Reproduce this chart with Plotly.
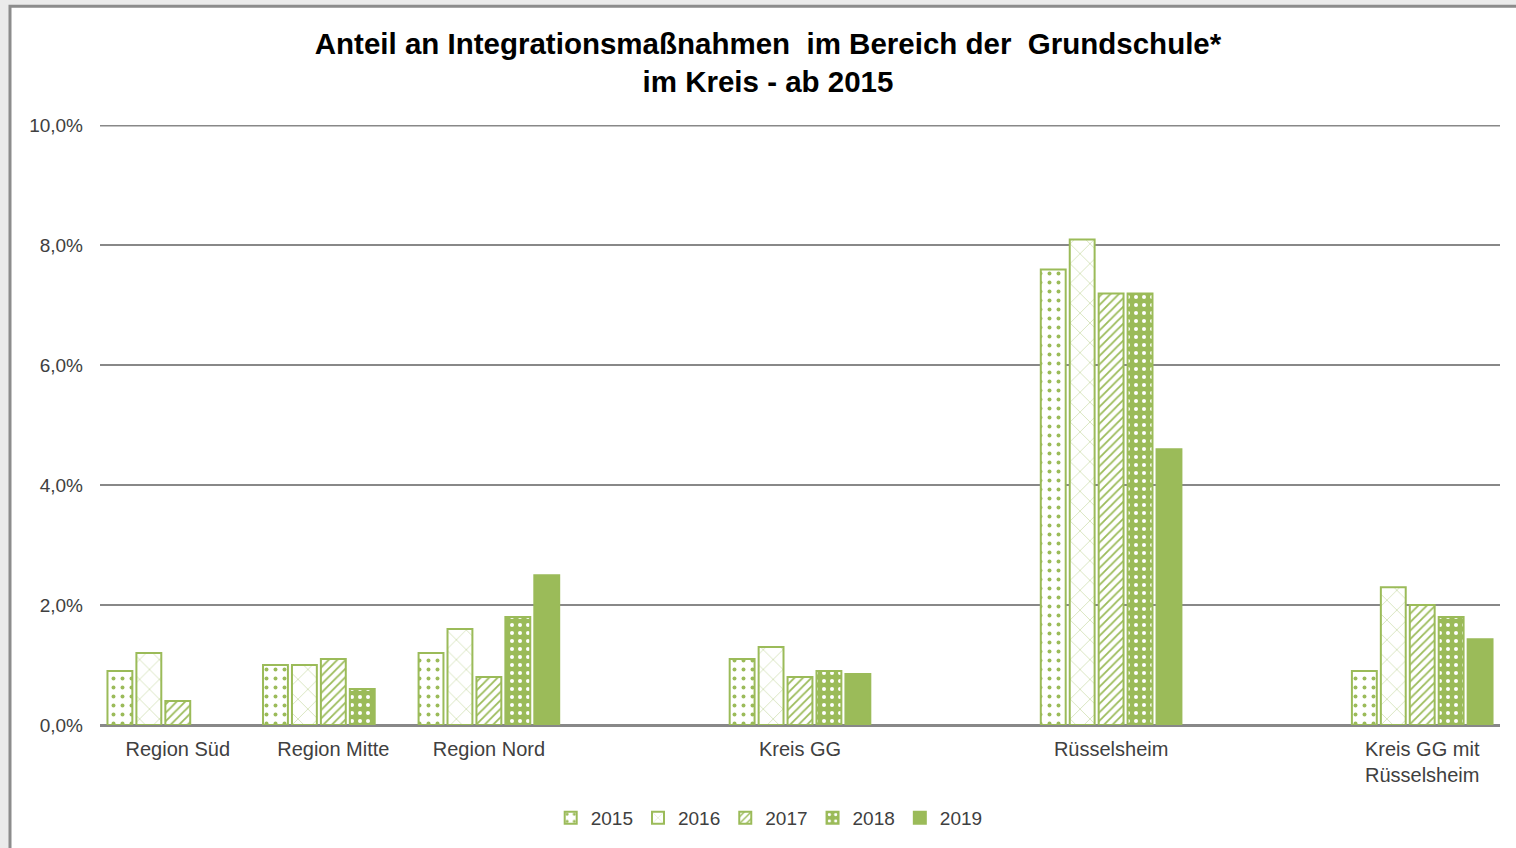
import plotly.graph_objects as go

categories = ["Region Süd", "Region Mitte", "Region Nord", " ", "Kreis GG", "  ",
              "Rüsselsheim", "   ", "Kreis GG mit<br>Rüsselsheim"]
years = ["2015", "2016", "2017", "2018", "2019"]
v2015 = [0.9, 1.0, 1.2, None, 1.1, None, 7.6, None, 0.9]
v2016 = [1.2, 1.0, 1.6, None, 1.3, None, 8.1, None, 2.3]
v2017 = [0.4, 1.1, 0.8, None, 0.8, None, 7.2, None, 2.0]
v2018 = [None, 0.6, 1.8, None, 0.9, None, 7.2, None, 1.8]
v2019 = [None, None, 2.5, None, 0.85, None, 4.6, None, 1.43]
series = [v2015, v2016, v2017, v2018, v2019]
y_ticks = [0, 2, 4, 6, 8, 10]
y_tick_labels = ["0,0%", "2,0%", "4,0%", "6,0%", "8,0%", "10,0%"]

GREEN = "#9bbb59"
GRID = "#888888"
FONT = "Liberation Sans, Arial, sans-serif"

patterns = [
    dict(shape=".", fgcolor=GREEN, bgcolor="white", size=9, solidity=0.15, fillmode="replace"),
    dict(shape="x", fgcolor="#b5cd85", bgcolor="white", size=14, solidity=0.07, fillmode="replace"),
    dict(shape="/", fgcolor=GREEN, bgcolor="white", size=6, solidity=0.3, fillmode="replace"),
    dict(shape=".", fgcolor="white", bgcolor=GREEN, size=8, solidity=0.2, fillmode="replace"),
    None,
]

fig = go.Figure()
for yr, vals, pat in zip(years, series, patterns):
    marker = dict(color=GREEN, line=dict(color=GREEN, width=2))
    if pat is not None:
        marker["pattern"] = pat
    fig.add_trace(go.Bar(name=yr, x=categories, y=vals, marker=marker))

fig.update_layout(
    width=1516, height=848,
    paper_bgcolor="#ebebeb",
    plot_bgcolor="white",
    margin=dict(l=100, r=16, t=125, b=122),
    barmode="group", bargap=0.07, bargroupgap=0.14,
    separators=",.",
    font=dict(family=FONT, size=20, color="#404040"),
    title=dict(
        text="<b>Anteil an Integrationsmaßnahmen  im Bereich der  Grundschule*<br>im Kreis - ab 2015</b>",
        x=768 / 1516, xanchor="center", xref="container",
        y=1 - 54 / 848, yanchor="top", yref="container",
        font=dict(family=FONT, size=29.5, color="black"),
    ),
    legend=dict(
        orientation="h", x=0.478, xanchor="center", y=-0.153, yanchor="middle",
        itemwidth=30, font=dict(size=19, color="#404040"), bgcolor="rgba(0,0,0,0)",
    ),
    xaxis=dict(showgrid=False, showline=True, linecolor=GRID, linewidth=2,
               ticks="", ticklabelstandoff=5, tickfont=dict(size=20, color="#404040")),
    yaxis=dict(range=[0, 10.01], tickvals=y_ticks, ticktext=y_tick_labels,
               showgrid=True, gridcolor=GRID, gridwidth=2,
               zeroline=True, zerolinecolor=GRID, zerolinewidth=2,
               ticks="", ticklabelstandoff=16,
               tickfont=dict(size=19, color="#404040")),
    shapes=[
        dict(type="rect", xref="paper", yref="paper",
             x0=(10 - 100) / 1400, x1=1.05, y0=-0.4, y1=(726 - 6) / 601,
             fillcolor="white", line=dict(color="#8c8c8c", width=3), layer="below"),
        dict(type="line", xref="paper", yref="y", x0=0, x1=1,
             y0=y_ticks[-1], y1=y_ticks[-1], line=dict(color=GRID, width=2), layer="below"),
    ],
)

fig.write_html("out.html", post_script="document.body.style.margin='0';",
               config={"displayModeBar": False})
